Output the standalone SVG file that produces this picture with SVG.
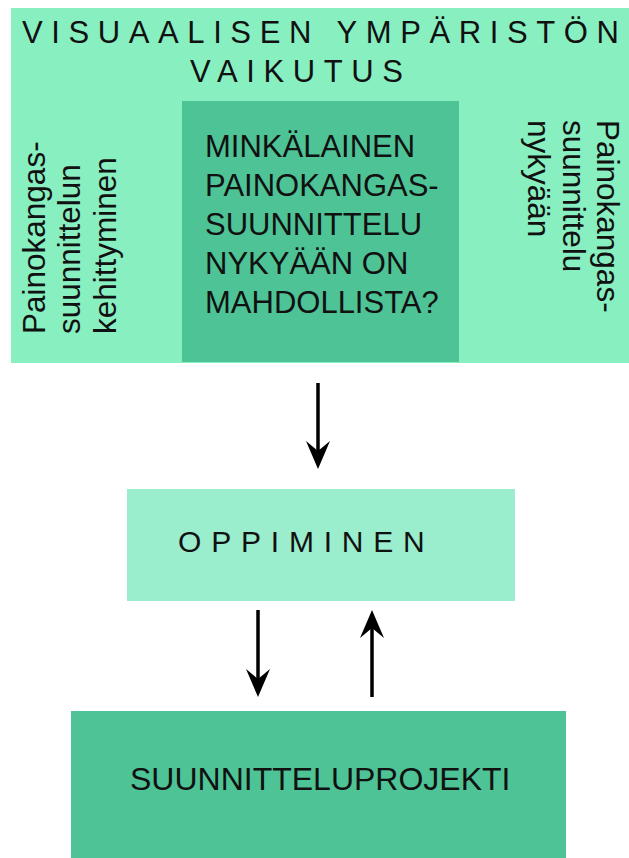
<svg xmlns="http://www.w3.org/2000/svg" width="629" height="858" viewBox="0 0 629 858">
<style>
.t{font-family:"Liberation Sans",Arial,sans-serif;fill:#111;}
.light{fill:#88efc1;}
.mint{fill:#9aedcd;}
.dark{fill:#4ec396;}
.ln{stroke:#000;stroke-width:3.5;fill:none;}
.hd{fill:#000;}
.v{font-size:31.5px;}
</style>
<defs>
<path id="ah" d="M0,0 L-12,-28 L0,-18 L12,-28 Z"/>
</defs>
<rect width="629" height="858" fill="#fff"/>
<g id="visual-env">
<rect class="light" x="11" y="8" width="618" height="355"/>
<text class="t" x="22" y="43" font-size="31" letter-spacing="8.6">VISUAALISEN YMPÄRISTÖN</text>
<text class="t" x="190" y="82" font-size="31" letter-spacing="8.6">VAIKUTUS</text>
</g>
<g id="left-text">
<text class="t v" transform="translate(45,334) rotate(-90)">Painokangas-</text>
<text class="t v" transform="translate(80,334) rotate(-90)">suunnittelun</text>
<text class="t v" transform="translate(116,334) rotate(-90)">kehittyminen</text>
</g>
<g id="right-text">
<text class="t v" transform="translate(597,120) rotate(90)">Painokangas-</text>
<text class="t v" transform="translate(563,120) rotate(90)">suunnittelu</text>
<text class="t v" transform="translate(528,120) rotate(90)">nykyään</text>
</g>
<g id="question">
<rect class="dark" x="182" y="101" width="277" height="261"/>
<text class="t" font-size="31" x="205">
<tspan x="205" y="157">MINKÄLAINEN</tspan>
<tspan x="205" y="196">PAINOKANGAS-</tspan>
<tspan x="205" y="235">SUUNNITTELU</tspan>
<tspan x="205" y="274">NYKYÄÄN ON</tspan>
<tspan x="205" y="313">MAHDOLLISTA?</tspan>
</text>
</g>
<g id="oppiminen">
<rect class="mint" x="127" y="489" width="388" height="112"/>
<text class="t" x="178" y="552" font-size="30" letter-spacing="9.8">OPPIMINEN</text>
</g>
<g id="suunnitteluprojekti">
<rect class="dark" x="71" y="711" width="495" height="147"/>
<text class="t" x="130" y="790" font-size="32">SUUNNITTELUPROJEKTI</text>
</g>
<g id="connectors">
<line class="ln" x1="318" y1="383" x2="318" y2="455"/>
<use href="#ah" class="hd" transform="translate(318,469)"/>
<line class="ln" x1="258" y1="610" x2="258" y2="683"/>
<use href="#ah" class="hd" transform="translate(258,697)"/>
<line class="ln" x1="372" y1="697" x2="372" y2="624"/>
<use href="#ah" class="hd" transform="translate(372,610) rotate(180)"/>
</g>
</svg>
